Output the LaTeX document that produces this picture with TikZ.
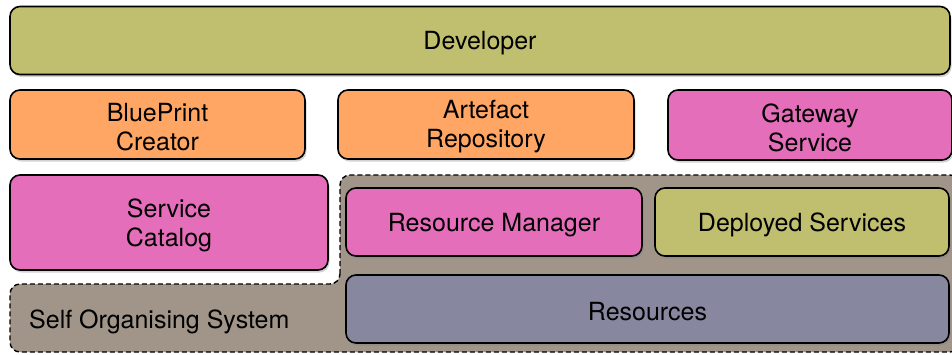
\documentclass[tikz,border=0pt]{standalone}
\usepackage{fontspec}
\setmainfont{TeX Gyre Heros}
\usetikzlibrary{shadows}
\definecolor{olive}{RGB}{191,191,111}
\definecolor{orangeb}{RGB}{255,166,100}
\definecolor{pinkb}{RGB}{228,110,186}
\definecolor{greyb}{RGB}{160,149,136}
\definecolor{slateb}{RGB}{135,135,160}
\begin{document}
\begin{tikzpicture}[x=1pt,y=-1pt,
  boxs/.style={draw=black,line width=1.6pt,rounded corners=10pt,inner sep=0pt,
    drop shadow={opacity=0.35,shadow xshift=1.5pt,shadow yshift=-2.5pt}},
  lbl/.style={align=center,font=\fontsize{25}{29}\selectfont,inner sep=0pt},
  region/.style={draw=black,line width=1.4pt,dash pattern=on 5pt off 3pt,fill=greyb,rounded corners=10pt}]
\useasboundingbox (0,0) rectangle (952,354);
% dashed self organising system region
\draw[region] (340,284) -- (340,175) -- (960,175) -- (960,352) -- (10,352) -- (10,284) -- cycle;
\node[lbl,anchor=west] (sos) at (29,322) {Self Organising System};
% boxes
\node[boxs,fill=olive,minimum width=940pt,minimum height=68pt] (dev) at (480,40.5) {};
\node[boxs,fill=orangeb,minimum width=295pt,minimum height=69pt] (bp) at (157.5,124.5) {};
\node[boxs,fill=orangeb,minimum width=296pt,minimum height=69pt] (ar) at (486,124.5) {};
\node[boxs,fill=pinkb,minimum width=284pt,minimum height=70pt] (gw) at (810,125) {};
\node[boxs,fill=pinkb,minimum width=318pt,minimum height=95pt] (sc) at (169,222.5) {};
\node[boxs,fill=pinkb,minimum width=296pt,minimum height=68pt] (rm) at (494,222) {};
\node[boxs,fill=olive,minimum width=294pt,minimum height=68pt] (ds) at (802,222) {};
\node[boxs,fill=slateb,minimum width=603pt,minimum height=68pt] (res) at (647.5,309) {};
% labels
\node[lbl] (devt) at ([yshift=-3pt]dev.center) {Developer};
\node[lbl] (bpt) at ([yshift=-2.5pt]bp.center) {BluePrint\\Creator};
\node[lbl] (art) at ([yshift=-2.5pt]ar.center) {Artefact\\Repository};
\node[lbl] (gwt) at ([yshift=-2.5pt]gw.center) {Gateway\\Service};
\node[lbl] (sct) at ([yshift=-2.5pt]sc.center) {Service\\Catalog};
\node[lbl] (rmt) at ([yshift=-3pt]rm.center) {Resource Manager};
\node[lbl] (dst) at ([yshift=-3pt]ds.center) {Deployed Services};
\node[lbl] (rest) at ([yshift=-3pt]res.center) {Resources};
\end{tikzpicture}
\end{document}
